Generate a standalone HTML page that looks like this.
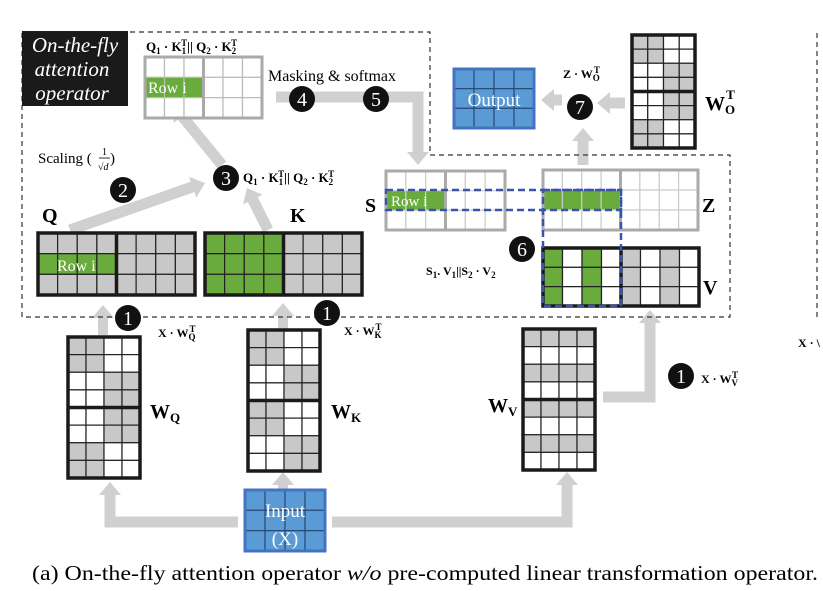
<!DOCTYPE html>
<html><head><meta charset="utf-8"><style>
html,body{margin:0;padding:0;background:#fff;}
svg{display:block;font-family:"Liberation Serif",serif;}
</style></head><body>
<svg id="s" width="823" height="591" viewBox="0 0 823 591" xmlns="http://www.w3.org/2000/svg">
<g id="arrows"></g>
<g id="grids"></g>
<path d="M22,32 H430 V155 H730 V317 H22 Z" fill="none" stroke="#333" stroke-width="1.2" stroke-dasharray="5,4"/>
<path d="M817,33 V320" fill="none" stroke="#333" stroke-width="1.2" stroke-dasharray="5,4"/>
<rect x="22" y="31" width="106" height="75" fill="#1a1a1a"/>
<text x="75" y="52" fill="#fff" font-size="21" font-style="italic" text-anchor="middle">On-the-fly</text>
<text x="72" y="76" fill="#fff" font-size="21" font-style="italic" text-anchor="middle">attention</text>
<text x="72" y="100" fill="#fff" font-size="21" font-style="italic" text-anchor="middle">operator</text>
<g id="circles"></g>
<text x="146" y="51" font-size="13" font-weight="bold">Q<tspan font-size="9" dy="3">1</tspan><tspan dy="-3"> · K</tspan><tspan font-size="9" dy="3">1</tspan><tspan font-size="9" dy="-8" dx="-5">T</tspan><tspan dy="5">|| Q</tspan><tspan font-size="9" dy="3">2</tspan><tspan dy="-3"> · K</tspan><tspan font-size="9" dy="3">2</tspan><tspan font-size="9" dy="-8" dx="-5">T</tspan></text>
<text x="243" y="182" font-size="13" font-weight="bold">Q<tspan font-size="9" dy="3">1</tspan><tspan dy="-3"> · K</tspan><tspan font-size="9" dy="3">1</tspan><tspan font-size="9" dy="-8" dx="-5">T</tspan><tspan dy="5">|| Q</tspan><tspan font-size="9" dy="3">2</tspan><tspan dy="-3"> · K</tspan><tspan font-size="9" dy="3">2</tspan><tspan font-size="9" dy="-8" dx="-5">T</tspan></text>
<text x="268" y="81" font-size="16">Masking &amp; softmax</text>
<text x="38" y="163" font-size="15">Scaling (</text>
<text x="102" y="155" font-size="10">1</text>
<line x1="99" y1="158" x2="110" y2="158" stroke="#000" stroke-width="0.8"/>
<text x="98" y="170" font-size="10" font-style="italic">√d</text>
<text x="110" y="163" font-size="15">)</text>
<text x="42" y="222" font-size="20" font-weight="bold">Q</text>
<text x="290" y="222" font-size="20" font-weight="bold">K</text>
<text x="365" y="212" font-size="20" font-weight="bold">S</text>
<text x="702" y="212" font-size="20" font-weight="bold">Z</text>
<text x="703" y="294" font-size="20" font-weight="bold">V</text>
<text x="705" y="110" font-size="20" font-weight="bold">W<tspan font-size="13" dy="4">O</tspan><tspan font-size="13" dy="-15" dx="-9">T</tspan></text>
<text x="563" y="78" font-size="12" font-weight="bold">Z · W<tspan font-size="9" dy="3">O</tspan><tspan font-size="9" dy="-8" dx="-6">T</tspan></text>
<text x="426" y="275" font-size="12" font-weight="bold">S<tspan font-size="9" dy="3">1</tspan><tspan dy="-3">. V</tspan><tspan font-size="9" dy="3">1</tspan><tspan dy="-3">||S</tspan><tspan font-size="9" dy="3">2</tspan><tspan dy="-3"> · V</tspan><tspan font-size="9" dy="3">2</tspan></text>
<text x="158" y="337" font-size="12" font-weight="bold">X · W<tspan font-size="9" dy="3">Q</tspan><tspan font-size="9" dy="-8" dx="-6">T</tspan></text>
<text x="344" y="335" font-size="12" font-weight="bold">X · W<tspan font-size="9" dy="3">K</tspan><tspan font-size="9" dy="-8" dx="-6">T</tspan></text>
<text x="701" y="383" font-size="12" font-weight="bold">X · W<tspan font-size="9" dy="3">V</tspan><tspan font-size="9" dy="-8" dx="-6">T</tspan></text>
<text x="798" y="347" font-size="12" font-weight="bold">X · \</text>
<text x="150" y="418" font-size="20" font-weight="bold">W<tspan font-size="13" dy="4">Q</tspan></text>
<text x="331" y="418" font-size="20" font-weight="bold">W<tspan font-size="13" dy="4">K</tspan></text>
<text x="488" y="412" font-size="20" font-weight="bold">W<tspan font-size="13" dy="4">V</tspan></text>
<g id="top"></g>
<text x="148" y="93" font-size="16" fill="#fff">Row i</text>
<text x="57" y="271" font-size="16" fill="#fff">Row i</text>
<text x="391" y="206" font-size="15" fill="#fff">Row i</text>
<text x="494" y="106" font-size="19" fill="#fff" text-anchor="middle">Output</text>
<text x="285" y="517" font-size="19" fill="#fff" text-anchor="middle">Input</text>
<text x="285" y="545" font-size="19" fill="#fff" text-anchor="middle">(X)</text>
<text x="32" y="580" font-size="21" textLength="786" lengthAdjust="spacingAndGlyphs">(a) On-the-fly attention operator <tspan font-style="italic">w/o</tspan> pre-computed linear transformation operator.</text>
</svg>
<script>
var NS="http://www.w3.org/2000/svg";
function el(p,t,a){var e=document.createElementNS(NS,t);for(var k in a)e.setAttribute(k,a[k]);document.getElementById(p).appendChild(e);return e;}
var G="#c8c8c8",GR="#6aab3e",W="#fff",BL="#5b9bd5";
function grid(x,y,w,h,c,r,f,line,border,bw,mid,midAxis){
 var cw=w/c,rh=h/r;
 for(var i=0;i<r;i++)for(var j=0;j<c;j++)el("grids","rect",{x:x+j*cw,y:y+i*rh,width:cw,height:rh,fill:f(i,j),stroke:line,"stroke-width":1.2});
 if(mid){ if(midAxis=="v") el("grids","line",{x1:x,y1:y+h/2,x2:x+w,y2:y+h/2,stroke:border,"stroke-width":bw});
 else el("grids","line",{x1:x+w/2,y1:y,x2:x+w/2,y2:y+h,stroke:border,"stroke-width":bw});}
 el("grids","rect",{x:x,y:y,width:w,height:h,fill:"none",stroke:border,"stroke-width":bw});
}
grid(145,57,117,61,6,3,function(i,j){return (i==1&&j<3)?GR:W},"#bbb","#aaa",3,true);
grid(38,233,157,62,8,3,function(i,j){return (i==1&&j<4)?GR:G},"#222","#1a1a1a",3.5,true);
grid(205,233,157,62,8,3,function(i,j){return j<4?GR:G},"#222","#1a1a1a",3.5,true);
grid(386,171,119,59,6,3,function(i,j){return (i==1&&j<3)?GR:W},"#ccc","#aaa",3,true);
grid(543,170,155,60,8,3,function(i,j){return (i==1&&j<4)?GR:W},"#ccc","#aaa",3,true);
grid(543,248,156,58,8,3,function(i,j){return (j==0||j==2)?GR:((j==4||j==6)?G:W)},"#222","#1a1a1a",3.5,true);
grid(632,35,63,113,4,8,function(i,j){var g=(i<2||i>5);return g?(j<2?G:W):(j<2?W:G)},"#222","#1a1a1a",3.5,true,"v");
grid(68,337,72,141,4,8,function(i,j){var g=(i<2||i>5);return g?(j<2?G:W):(j<2?W:G)},"#222","#1a1a1a",3.5,true,"v");
grid(248,330,72,141,4,8,function(i,j){var g=(i<2||(i>3&&i<6));return g?(j<2?G:W):(j<2?W:G)},"#222","#1a1a1a",3.5,true,"v");
grid(523,329,72,141,4,8,function(i,j){return i%2==0?G:W},"#222","#1a1a1a",3.5,true,"v");
grid(454,69,80,59,4,3,function(){return BL},"#2a4a7a","#4472c4",3,false);
grid(245,490,80,61,4,3,function(){return BL},"#2a4a7a","#4472c4",3,false);
el("grids","rect",{x:386,y:190,width:235,height:20,fill:"none",stroke:"#3a55a8","stroke-width":2.5,"stroke-dasharray":"7,4"});
el("grids","rect",{x:543,y:190,width:78,height:116,fill:"none",stroke:"#3a55a8","stroke-width":2.5,"stroke-dasharray":"7,4"});
var AC="#d0d0d0";
function arr(pts,hx,hy,ang,wd){wd=wd||11;
 el("arrows","polyline",{points:pts,fill:"none",stroke:AC,"stroke-width":wd,"stroke-linejoin":"miter"});
 var L=13,Wd=11,a=ang*Math.PI/180,c=Math.cos(a),s=Math.sin(a);
 var bx=hx-L*c,by=hy-L*s;
 el("arrows","polygon",{points:hx+","+hy+" "+(bx-Wd*s)+","+(by+Wd*c)+" "+(bx+Wd*s)+","+(by-Wd*c),fill:AC});
}
function ang(x1,y1,x2,y2){return Math.atan2(y2-y1,x2-x1)*180/Math.PI;}
arr("70,230 195,186",205,183,ang(70,230,205,183));
arr("268,230 252,198",247,188,ang(268,230,247,188));
arr("222,165 182,116",174,106,ang(222,165,174,106));
arr("276,97 418,97 418,152",418,165,90);
arr("583,165 583,140",583,128,-90);
arr("625,103 608,103",597,103,180);
arr("562,100 553,100",541,100,180);
arr("103,335 103,316",103,305,-90,10);
arr("283,330 283,314",283,303,-90,10);
arr("283,490 283,482",283,472,-90,10);
arr("238,522 110,522 110,495",110,482,-90);
arr("332,522 567,522 567,485",567,472,-90);
arr("603,397 650,397 650,323",650,310,-90);
function circ(x,y,t){el("circles","ellipse",{cx:x,cy:y,rx:13,ry:13,fill:"#111"});
 var tx=el("circles","text",{x:x,y:y+7,fill:"#fff","font-size":20,"text-anchor":"middle"});tx.textContent=t;}
circ(302,99,"4");circ(376,99,"5");circ(123,190,"2");circ(226,178,"3");circ(522,249,"6");circ(580,107,"7");
circ(128,318,"1");circ(327,313,"1");circ(681,376,"1");
</script>
</body></html>
